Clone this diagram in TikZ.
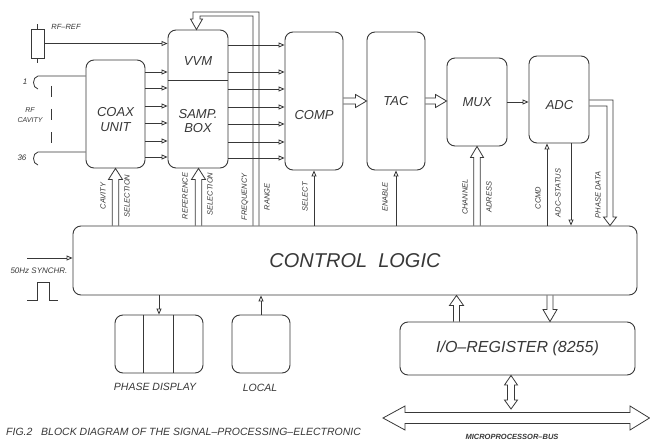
\documentclass[tikz,border=0pt]{standalone}
\usepackage{fontspec}
\setmainfont{Liberation Sans}
\usetikzlibrary{arrows.meta,calc}
\definecolor{ink}{gray}{0.22}
\newcommand\fatv[5]{\draw[fat] let \p1=#1, \p2=#2, \n1={sign(\y2-(\y1))} in
 ({\x1-#3pt},\y1) -- ({\x1-#3pt},{\y2-(\n1)*#5pt}) -- ({\x1-#4pt},{\y2-(\n1)*#5pt}) -- (\x1,\y2)
 -- ({\x1+#4pt},{\y2-(\n1)*#5pt}) -- ({\x1+#3pt},{\y2-(\n1)*#5pt}) -- ({\x1+#3pt},\y1);}
\newcommand\fath[5]{\draw[fat] let \p1=#1, \p2=#2, \n1={sign(\x2-(\x1))} in
 (\x1,{\y1-#3pt}) -- ({\x2-(\n1)*#5pt},{\y1-#3pt}) -- ({\x2-(\n1)*#5pt},{\y1-#4pt}) -- (\x2,\y1)
 -- ({\x2-(\n1)*#5pt},{\y1+#4pt}) -- ({\x2-(\n1)*#5pt},{\y1+#3pt}) -- (\x1,{\y1+#3pt});}
\begin{document}
\begin{tikzpicture}[x=1pt,y=-1pt,
  box/.style={draw=ink, line width=0.9pt, rounded corners=8pt, inner sep=0pt, text=ink},
  conn/.style={draw=ink, line width=0.8pt},
  sarr/.style={conn, -{Triangle[open,length=6pt,width=5pt]}},
  fat/.style={draw=ink, line width=0.8pt, line join=miter},
  rl/.style={font=\fontsize{7.5}{8}\selectfont\itshape, text=ink, inner sep=0pt, rotate=90},
  sl/.style={font=\fontsize{7.5}{8}\selectfont\itshape, text=ink, inner sep=0pt},
  big/.style={font=\fontsize{13}{15}\selectfont\itshape, text=ink, align=center, inner sep=0pt},
  mid/.style={font=\fontsize{10.5}{12}\selectfont\itshape, text=ink, inner sep=0pt},
]
\useasboundingbox[fill=white] (0,0) rectangle (650,441);

% ---------- blocks ----------
\node[box, rounded corners=0pt, minimum width=13pt, minimum height=29pt] (res) at (37.5,43.5) {};
\node[box, minimum width=59pt, minimum height=108pt] (coax) at (115.5,114) {};
\node[box, minimum width=60pt, minimum height=138pt] (samp) at (198,99) {};
\node[box, minimum width=58pt, minimum height=138pt] (comp) at (314,101) {};
\node[box, minimum width=58pt, minimum height=138pt, font=\fontsize{13}{15}\selectfont\itshape] (tac) at (396,101) {TAC};
\node[box, minimum width=60pt, minimum height=88pt, font=\fontsize{13}{15}\selectfont\itshape] (mux) at (477,102) {MUX};
\node[box, minimum width=60pt, minimum height=87pt] (adc) at (559,99.5) {};
\node[box, minimum width=564pt, minimum height=69pt, font=\fontsize{20}{22}\selectfont\itshape] (ctrl) at (355,260.5) {CONTROL\ \ LOGIC};
\node[box, minimum width=88pt, minimum height=58pt] (phase) at (159,344) {};
\node[box, minimum width=58pt, minimum height=58pt] (local) at (261,344) {};
\node[box, minimum width=235pt, minimum height=53pt, font=\fontsize{16}{18}\selectfont\itshape] (io) at (517.5,348.5) {I/O--REGISTER (8255)};

% block texts
\node[big] (tcoax) at (115.5,120) {COAX\\UNIT};
\node[big] (tvvm) at (198,61) {VVM};
\node[big, font=\fontsize{13}{14}\selectfont\itshape] (tsamp) at (198,121.5) {SAMP.\\BOX};
\node[big] (tcomp) at (314,115) {COMP};
\node[big] (tadc) at (559.5,105) {ADC};

% inner dividers
\path (0,80) coordinate (dv);
\draw[conn] (samp.west |- dv) -- (samp.east |- dv);
\path (143,0) coordinate (pd1) (173,0) coordinate (pd2);
\draw[conn] (pd1 |- phase.north) -- (pd1 |- phase.south);
\draw[conn] (pd2 |- phase.north) -- (pd2 |- phase.south);

% ---------- RF reference ----------
\draw[conn] (res.north) -- ++(0,-5);
\draw[conn] (res.south) -- ++(0,5);
\node[sl] (rfref) at (66,27) {RF--REF};
\draw[sarr] (res.east) -- (samp.west |- res.east);

% ---------- RF cavity inputs ----------
\node[sl, font=\fontsize{8}{9}\selectfont\itshape] (c1) at (25,82) {1};
\node[sl, font=\fontsize{8}{9}\selectfont\itshape] (c36) at (22,158) {36};
\coordinate (h1) at (38,76);
\coordinate (h36) at (38,152);
\draw[conn] (coax.west |- h1) -- (h1) .. controls (32,77) and (32,88) .. (38,89);
\draw[conn] (coax.west |- h36) -- (h36) .. controls (32,153) and (32,164) .. (38,165);
\draw[conn, dash pattern=on 11pt off 12pt] (51,86) -- (51,143);
\node[sl, font=\fontsize{7}{7}\selectfont\itshape] (rf) at (30,110) {RF};
\node[sl, font=\fontsize{7}{7}\selectfont\itshape] (cav) at (30,120) {CAVITY};

% ---------- parallel signal lines ----------
\foreach \yy in {72,88,106,123,141,157} {
  \path (0,\yy) coordinate (t);
  \draw[sarr] (coax.east |- t) -- (samp.west |- t);
}
\foreach \yy in {45,72,89,107,124,142,158} {
  \path (0,\yy) coordinate (t);
  \draw[sarr] (samp.east |- t) -- (comp.west |- t);
}

% ---------- feedback (FREQUENCY / RANGE) ----------
\coordinate (fo) at (259,12);
\coordinate (fi) at (253,16);
\draw[fat] (fo |- ctrl.north) -- (fo) -- (193,12) -- (193,19) -- (190.5,19) -- (samp.north -| 196.5,0)
  -- (202.5,19) -- (200,19) -- (200,16) -- (fi) -- (fi |- ctrl.north);

% ---------- fat arrows ----------
\fatv{(coax.south |- ctrl.north)}{(coax.south)}{3.2}{7}{11}
\fatv{($(samp.south |- ctrl.north)+(0.5,0)$)}{(samp.south)}{3.2}{7}{11}
\fatv{(mux.south |- ctrl.north)}{(mux.south)}{3.2}{6.5}{11}
\fath{(comp.east)}{(tac.west)}{3}{6.5}{11}
\fath{(tac.east)}{(mux.west |- tac.east)}{3}{6.5}{11}
\coordinate (ioup) at (456.5,0);
\coordinate (iodn) at (550,0);
\fatv{(ioup |- io.north)}{(ioup |- ctrl.south)}{3}{7}{10}
\fatv{(iodn |- ctrl.south)}{(iodn |- io.north)}{3}{7}{12}

% PHASE DATA
\coordinate (pdo) at (613,100);
\coordinate (pdi) at (607,106);
\draw[fat] (adc.east |- pdo) -- (pdo) -- (613,217) -- (616.5,217) -- (ctrl.north -| 610,0)
  -- (603.5,217) -- (607,217) -- (pdi) -- (adc.east |- pdi);

% ---------- single arrows ----------
\draw[sarr] (comp.south |- ctrl.north) -- (comp.south);
\draw[sarr] (tac.south |- ctrl.north) -- (tac.south);
\draw[sarr] (mux.east) -- (adc.west |- mux.east);
\coordinate (ccx) at (547,0);
\coordinate (asx) at (571,0);
\draw[sarr] (ccx |- ctrl.north) -- (ccx |- adc.south);
\draw[sarr] (asx |- adc.south) -- (asx |- ctrl.north);
\draw[sarr] (phase.north |- ctrl.south) -- (phase.north);
\draw[sarr] (local.north) -- (local.north |- ctrl.south);

% 50 Hz synchr
\coordinate (syn) at (27,258);
\draw[sarr] (syn) -- (ctrl.west |- syn);
\node[sl, font=\fontsize{8}{8}\selectfont\itshape] (tsyn) at (39,271) {50Hz SYNCHR.};
\draw[conn] (27,300) -- (37,300) -- (37,282) -- (49,282) -- (49,300) -- (58,300);

% ---------- I/O to bus ----------
\draw[fat] (io.south -| 511,0) -- (517.5,385) -- (514.5,385) -- (514.5,400) -- (517.5,400) -- (511,409)
  -- (504.5,400) -- (507.5,400) -- (507.5,385) -- (504.5,385) -- cycle;
\draw[fat] (383,418) -- (405,406) -- (405,412.5) -- (630,412.5) -- (630,406) -- (649.5,418)
  -- (630,430) -- (630,423.5) -- (405,423.5) -- (405,430) -- cycle;
\node[sl, font=\fontsize{7.5}{8}\selectfont\bfseries\itshape] (tbus) at (512,437) {MICROPROCESSOR--BUS};

% ---------- rotated labels ----------
\node[rl] (lcav) at (103,196) {CAVITY};
\node[rl] (lsel1) at (127,196) {SELECTION};
\node[rl] (lref) at (185,196) {REFERENCE};
\node[rl] (lsel2) at (210,194) {SELECTION};
\node[rl] (lfreq) at (245,197) {FREQUENCY};
\node[rl] (lrange) at (267,197) {RANGE};
\node[rl] (lselect) at (305,197) {SELECT};
\node[rl] (lenable) at (385,197) {ENABLE};
\node[rl] (lchan) at (465,197) {CHANNEL};
\node[rl] (ladr) at (489,197) {ADRESS};
\node[rl] (lccmd) at (538,198) {CCMD};
\node[rl] (lstat) at (558,193) {ADC--STATUS};
\node[rl] (lpd) at (598,195) {PHASE DATA};

% ---------- bottom texts ----------
\node[mid] (tphase) at (155,387) {PHASE DISPLAY};
\node[mid] (tlocal) at (260,388) {LOCAL};
\node[anchor=west, font=\fontsize{10.5}{11}\selectfont\itshape, text=ink, inner sep=0pt] (cap) at (6,432)
  {FIG.2\ \ \ BLOCK DIAGRAM OF THE SIGNAL--PROCESSING--ELECTRONIC};
\end{tikzpicture}
\end{document}
